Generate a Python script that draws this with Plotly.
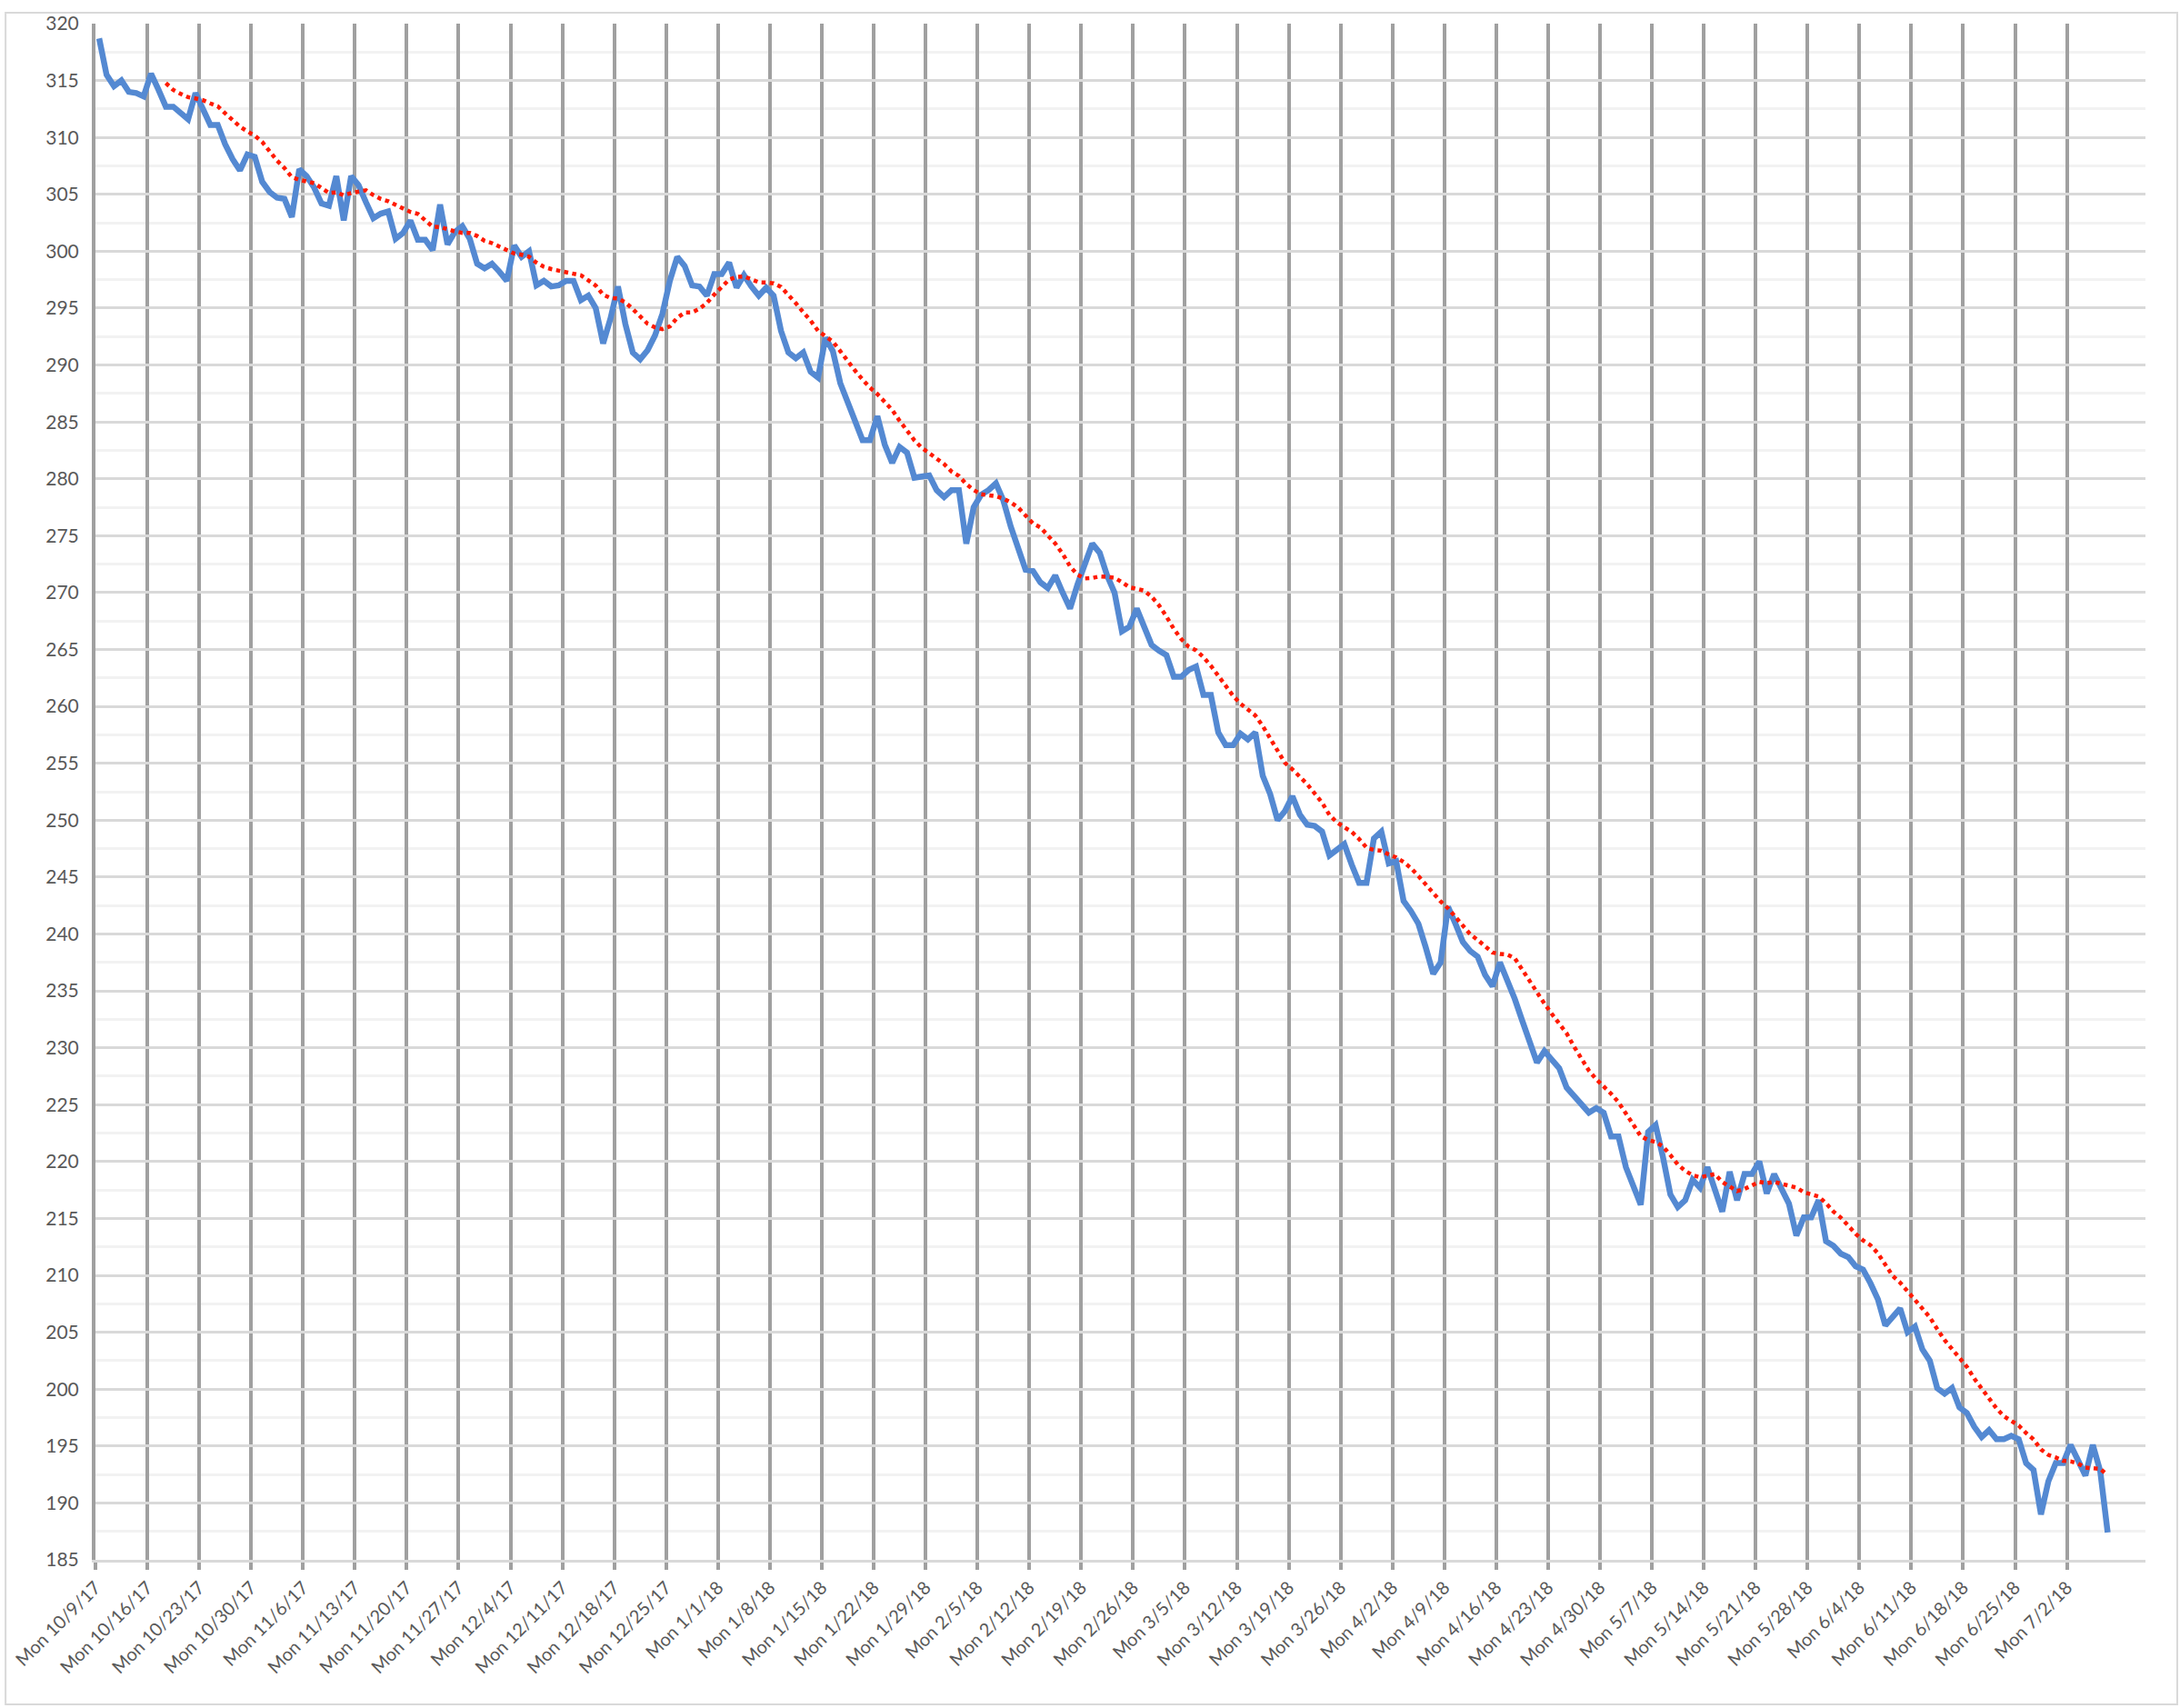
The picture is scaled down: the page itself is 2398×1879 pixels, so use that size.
import pandas as pd
import plotly.graph_objects as go

# ---------------- data (daily values) ----------------
start_date = "2017-10-09"
last_label_monday = "2018-07-02"

weights = [
    318.7, 315.5, 314.5, 315.0, 314.0, 313.9, 313.6,          # 10/9
    315.6, 314.2, 312.7, 312.7, 312.1, 311.6, 313.9,          # 10/16
    312.4, 311.1, 311.1, 309.4, 308.1, 307.1, 308.5,          # 10/23
    308.3, 306.1, 305.2, 304.7, 304.6, 303.0, 307.2,          # 10/30
    306.6, 305.6, 304.2, 304.0, 306.6, 302.7, 306.6,          # 11/6
    305.8, 304.3, 302.9, 303.3, 303.5, 301.1, 301.6,          # 11/13
    302.7, 301.0, 301.0, 300.1, 304.1, 300.6, 301.7,          # 11/20
    302.2, 301.1, 298.9, 298.5, 298.9, 298.2, 297.4,          # 11/27
    300.5, 299.5, 300.0, 297.0, 297.4, 296.9, 297.0,          # 12/4
    297.4, 297.4, 295.7, 296.1, 295.0, 291.9, 294.1,          # 12/11
    296.9, 293.6, 291.1, 290.5, 291.3, 292.6, 294.5,          # 12/18
    297.4, 299.5, 298.7, 297.0, 296.9, 296.1, 298.0,          # 12/25
    298.0, 299.0, 296.8, 297.9, 296.9, 296.1, 296.8,          # 1/1
    296.1, 293.0, 291.1, 290.6, 291.1, 289.4, 288.9,          # 1/8
    292.4, 291.2, 288.4, 286.8, 285.1, 283.4, 283.4,          # 1/15
    285.5, 283.0, 281.4, 282.8, 282.3, 280.1, 280.2,          # 1/22
    280.3, 279.0, 278.4, 279.0, 279.0, 274.3, 277.5,          # 1/29
    278.6, 279.0, 279.6, 278.1, 275.8, 273.9, 272.0,          # 2/5
    271.9, 270.9, 270.4, 271.5, 270.0, 268.6, 270.7,          # 2/12
    272.5, 274.3, 273.5, 271.5, 270.0, 266.6, 267.0,          # 2/19
    268.6, 267.0, 265.4, 264.9, 264.5, 262.6, 262.6,          # 2/26
    263.2, 263.5, 261.0, 261.0, 257.7, 256.6, 256.6,          # 3/5
    257.6, 257.1, 257.7, 253.9, 252.3, 250.0, 250.8,          # 3/12
    252.1, 250.5, 249.6, 249.5, 249.0, 246.9, 247.4,          # 3/19
    247.9, 246.1, 244.5, 244.5, 248.4, 249.0, 246.2,          # 3/26
    246.4, 242.9, 242.0, 240.9, 238.8, 236.5, 237.5,          # 4/2
    242.4, 240.9, 239.3, 238.5, 238.0, 236.4, 235.4,          # 4/9
    237.5, 236.0, 234.3, 232.4, 230.5, 228.7, 229.7,          # 4/16
    228.9, 228.2, 226.5, 225.8, 225.0, 224.3, 224.7,          # 4/23
    224.3, 222.2, 222.2, 219.5, 218.0, 216.2, 222.6,          # 4/30
    223.2, 220.4, 217.1, 216.0, 216.6, 218.4, 217.7,          # 5/7
    219.5, 217.5, 215.6, 219.1, 216.6, 218.9, 218.9,          # 5/14
    220.0, 217.2, 218.9, 217.7, 216.3, 213.5, 215.1,          # 5/21
    215.1, 216.6, 213.0, 212.6, 211.9, 211.6, 210.8,          # 5/28
    210.5, 209.3, 207.9, 205.6, 206.3, 207.1, 205.0,          # 6/4
    205.5, 203.5, 202.5, 200.1, 199.6, 200.1, 198.4,          # 6/11
    197.9, 196.7, 195.8, 196.4, 195.6, 195.6, 195.9,          # 6/18
    195.6, 193.5, 192.9, 189.0, 191.9, 193.5, 193.5,          # 6/25
    195.1, 193.7, 192.4, 195.1, 192.8, 187.4,                 # 7/2
]

ma_window = 10          # moving-average trendline period
y_min, y_max = 185, 320
y_major, y_minor = 5, 2.5

# ---------------- derived ----------------
dates = pd.date_range(start_date, periods=len(weights), freq="D")
moving_avg = pd.Series(weights).rolling(ma_window).mean()
# Excel date axis ("between tick marks"): each day is plotted in the middle of its slot
x_points = dates + pd.Timedelta(hours=12)

mondays = pd.date_range(start_date, last_label_monday, freq="7D")
tick_text = [f"Mon {d.month}/{d.day}/{d.strftime('%y')}" for d in mondays]

x_start = pd.Timestamp(start_date)
x_end = x_start + pd.Timedelta(days=276.6)

font_family = "Lato, Carlito, Calibri, 'Liberation Sans', sans-serif"
label_color = "#595959"

fig = go.Figure()
fig.add_trace(go.Scatter(
    x=x_points, y=weights, mode="lines",
    line=dict(color="#5489D2", width=6.5),
    hoverinfo="x+y", showlegend=False,
))
fig.add_trace(go.Scatter(
    x=x_points, y=moving_avg, mode="lines",
    line=dict(color="#FF1A00", width=4.5, dash="4.5px,4.5px"),
    showlegend=False,
))

fig.update_layout(
    width=2398, height=1879,
    margin=dict(l=102, r=38, t=15, b=163),
    paper_bgcolor="white", plot_bgcolor="white",
    font=dict(family=font_family, color=label_color, size=20),
    showlegend=False,
)

fig.update_xaxes(
    type="date",
    range=[x_start, x_end],
    tickmode="array", tickvals=mondays, ticktext=tick_text,
    tickangle=-45,
    tickfont=dict(size=20, color=label_color, family=font_family),
    showgrid=True, gridcolor="#A0A0A0", gridwidth=4,
    ticks="outside", ticklen=8, tickcolor="#A0A0A0", tickwidth=4,
    showline=True, linecolor="#D9D9D9", linewidth=3,
    zeroline=False,
)
fig.update_yaxes(
    range=[y_min, y_max],
    tick0=y_min, dtick=y_major,
    tickfont=dict(size=21, color=label_color, family=font_family),
    showgrid=True, gridcolor="#D9D9D9", gridwidth=3,
    minor=dict(dtick=y_minor, tick0=y_min, showgrid=True,
               gridcolor="#F2F2F2", gridwidth=3),
    ticks="", ticklabelstandoff=10,
    showline=True, linecolor="#A0A0A0", linewidth=4,
    zeroline=False,
)

# chart-area border (as in the spreadsheet chart frame)
pw = 2398 - 102 - 38
ph = 1879 - 15 - 163
fig.add_shape(
    type="rect", xref="paper", yref="paper",
    x0=(3 - 102) / pw, x1=(2395 - 102) / pw,
    y0=(1716 - 1876) / ph, y1=(1716 - 3) / ph,
    line=dict(color="#D9D9D9", width=2), fillcolor="rgba(0,0,0,0)",
    layer="below",
)

fig.write_html(
    "out.html",
    config={"displayModeBar": False},
    post_script="document.body.style.margin='0';document.body.style.overflow='hidden';",
)
